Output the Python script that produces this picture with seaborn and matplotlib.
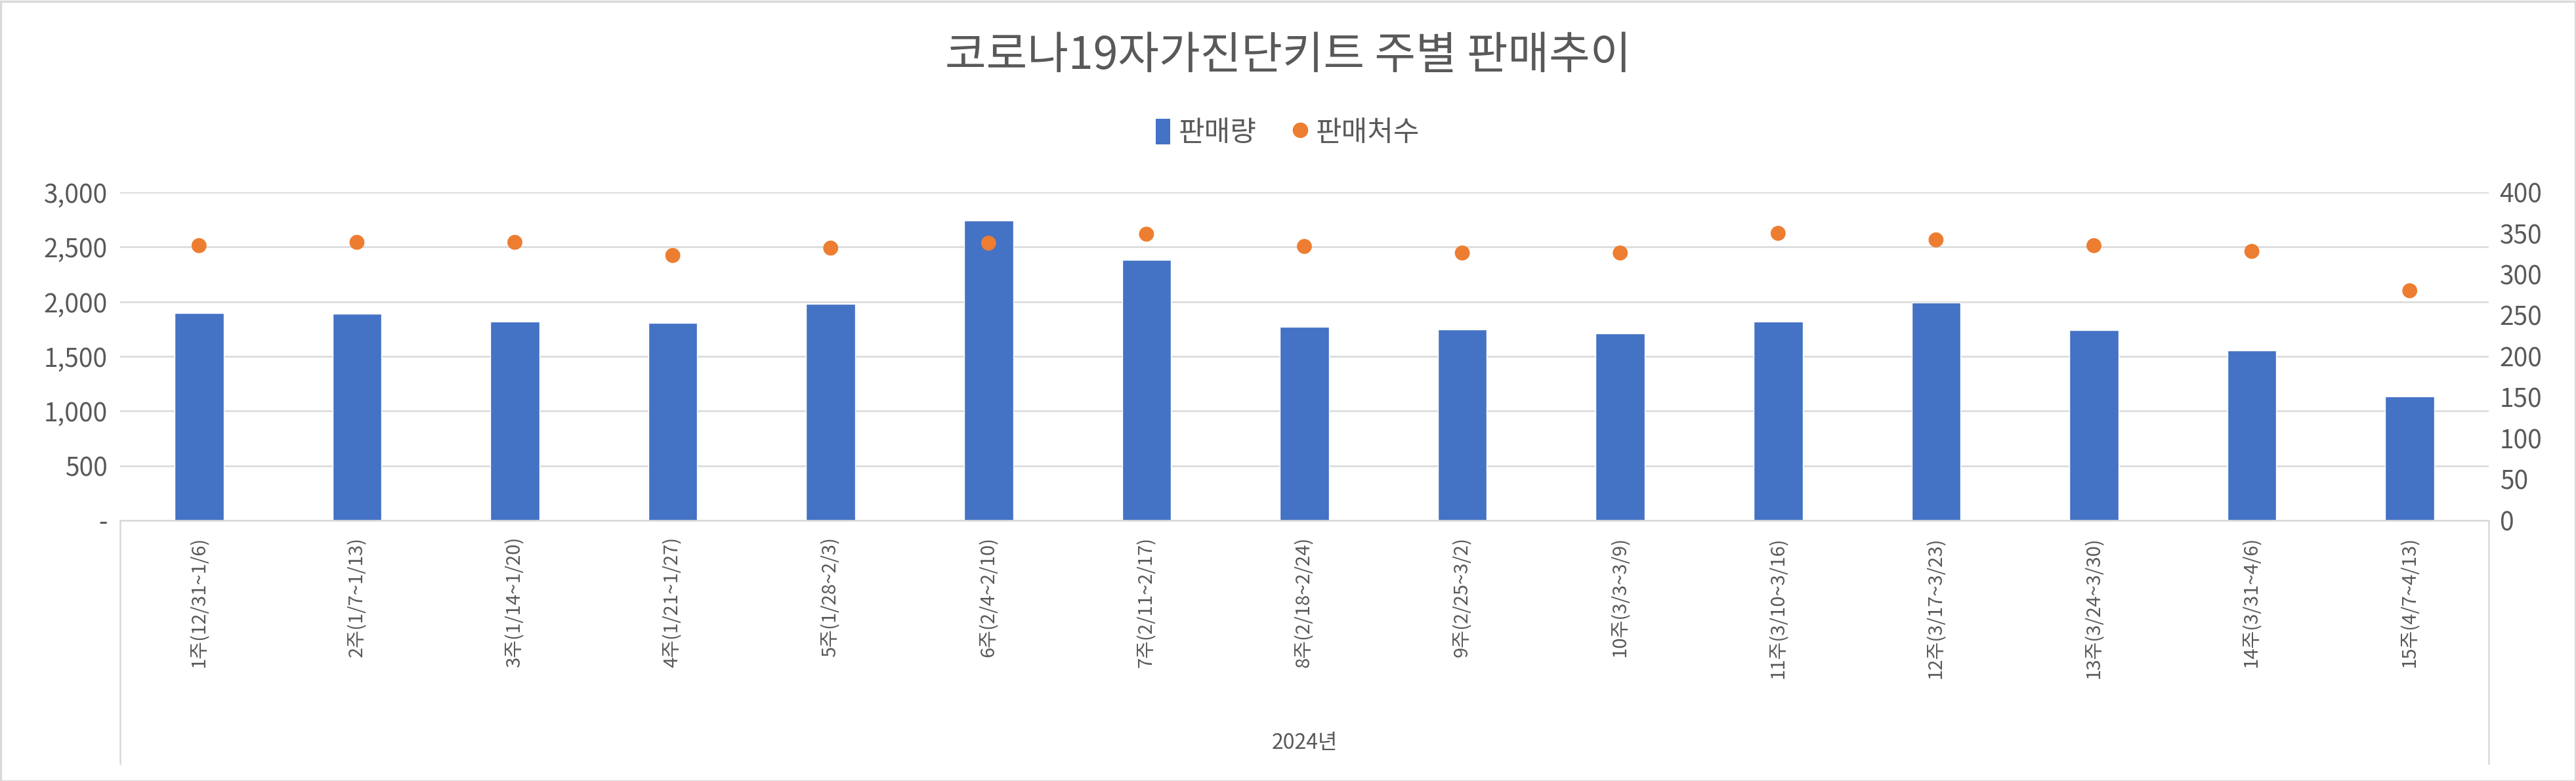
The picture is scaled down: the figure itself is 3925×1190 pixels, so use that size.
import numpy as np
import pandas as pd
import matplotlib
matplotlib.use("Agg")
import matplotlib.pyplot as plt
import seaborn as sns
from matplotlib.lines import Line2D
from matplotlib.patches import Patch, Rectangle
from matplotlib.ticker import FuncFormatter, MultipleLocator

# ---- data ----
weeks = ["1주(12/31~1/6)", "2주(1/7~1/13)", "3주(1/14~1/20)", "4주(1/21~1/27)",
         "5주(1/28~2/3)", "6주(2/4~2/10)", "7주(2/11~2/17)", "8주(2/18~2/24)",
         "9주(2/25~3/2)", "10주(3/3~3/9)", "11주(3/10~3/16)", "12주(3/17~3/23)",
         "13주(3/24~3/30)", "14주(3/31~4/6)", "15주(4/7~4/13)"]
sales = [1899, 1888, 1820, 1809, 1979, 2744, 2385, 1769, 1749, 1710, 1820, 1995, 1739, 1557, 1133]
stores = [335, 339, 339, 323, 332, 338, 349, 334, 326, 326, 350, 342, 335, 328, 280]
year_label = "2024년"
title = "코로나19자가진단키트 주별 판매추이"
series_names = ["판매량", "판매처수"]

BLUE = "#4472C4"
ORANGE = "#ED7D31"
TXT = "#595959"
GRID = "#D9D9D9"

sns.set_theme(style="white")
plt.rcParams['font.family'] = ['Noto Sans CJK KR', 'DejaVu Sans']

W, H = 3925, 1190
fig = plt.figure(figsize=(W / 100, H / 100), dpi=100)
fig.patch.set_facecolor("white")

left, right, top, bottom = 183, 3792, 293, 793
ax = fig.add_axes([left / W, 1 - bottom / H, (right - left) / W, (bottom - top) / H])

df = pd.DataFrame({"week": weeks, "sales": sales, "stores": stores})
sns.barplot(data=df, x="week", y="sales", color=BLUE, saturation=1, width=0.31, ax=ax, zorder=2)
ax.set_xlim(-0.5, len(weeks) - 0.5)
ax.set_ylim(0, 3000)
ax.yaxis.set_major_locator(MultipleLocator(500))
ax.yaxis.set_major_formatter(FuncFormatter(lambda v, p: "-" if v == 0 else f"{int(v):,}"))
ax.grid(axis="y", color=GRID, linewidth=1.8, zorder=0)
ax.set_axisbelow(True)
for s in ["top", "left", "right"]:
    ax.spines[s].set_visible(False)
ax.spines["bottom"].set_color(GRID)
ax.spines["bottom"].set_linewidth(1.8)
ax.set_xlabel("")
ax.set_ylabel("")
ax.tick_params(axis="y", length=0, labelsize=28, labelcolor=TXT, pad=14)
ax.tick_params(axis="x", length=0, pad=18)
ax.set_xticks(range(len(weeks)))
ax.set_xticklabels(weeks, rotation=90, va="top", ha="center", fontsize=21, color=TXT)

ax2 = ax.twinx()
sns.scatterplot(x=np.arange(len(weeks)), y=stores, ax=ax2, color=ORANGE, s=270,
                edgecolor="none", linewidth=0, zorder=3, legend=False)
ax2.set_ylim(0, 400)
ax2.yaxis.set_major_locator(MultipleLocator(50))
ax2.tick_params(axis="y", length=0, labelsize=28, labelcolor=TXT, pad=12)
ax2.grid(False)
for s in ["top", "left", "right", "bottom"]:
    ax2.spines[s].set_visible(False)
ax2.set_ylabel("")
ax2.set_xlim(-0.5, len(weeks) - 0.5)

# multi-level category box lines
for xpix in (left, right):
    fig.add_artist(Line2D([xpix / W, xpix / W], [1 - bottom / H, 1 - 1164 / H],
                          transform=fig.transFigure, color=GRID, linewidth=1.8))
fig.text(((left + right) / 2) / W, 1 - 1132 / H, year_label, ha="center", va="center",
         fontsize=23, color=TXT)

# title
fig.text(0.5, 1 - 86 / H, title, ha="center", va="center", fontsize=49, color=TXT)

# legend
handles = [Patch(facecolor=BLUE, edgecolor="none"),
           Line2D([0], [0], marker="o", linestyle="none", markerfacecolor=ORANGE,
                  markeredgecolor="none", markersize=17)]
fig.legend(handles, series_names, loc="center", bbox_to_anchor=(0.5, 1 - 203 / H), ncol=2,
           frameon=False, fontsize=31, labelcolor=TXT, handlelength=0.5, handleheight=1.0,
           handletextpad=0.3, columnspacing=1.3)

# outer chart border
fig.add_artist(Rectangle((0.5 / W, 0.5 / H), 1 - 2 / W, 1 - 2 / H, transform=fig.transFigure,
                         fill=False, edgecolor=GRID, linewidth=2.5))

fig.savefig("out.png", dpi=100, facecolor="white")
